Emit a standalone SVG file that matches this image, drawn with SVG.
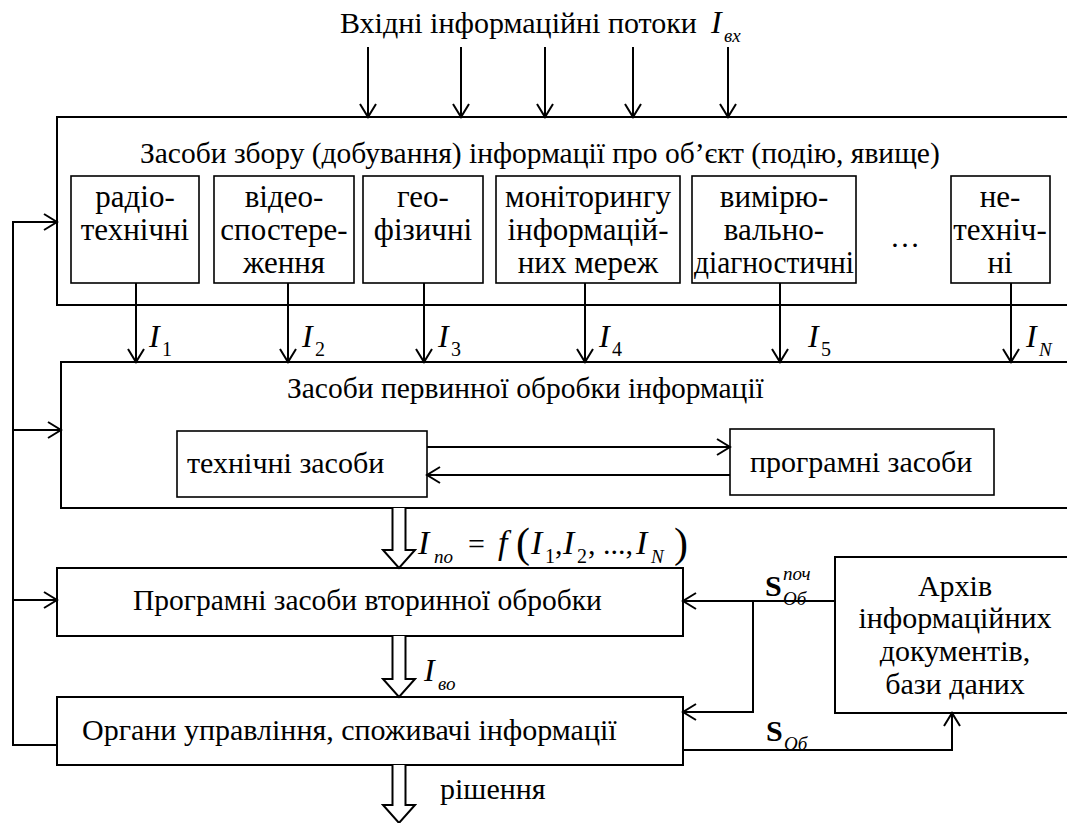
<svg xmlns="http://www.w3.org/2000/svg" width="1067" height="823" viewBox="0 0 1067 823" font-family="'Liberation Serif','Times New Roman',serif">
<style>
text{font-family:"Liberation Serif","Times New Roman",serif;fill:#000}
.t{font-size:30px}
.s{font-size:31px}
.h{font-size:29.5px}
.c{text-anchor:middle}
.big{font-size:32px;font-style:italic}
.bigf{font-size:34px;font-style:italic}
.sub{font-size:19px;font-style:italic}
.subn{font-size:20px}
.par{font-size:42px}
.box{fill:#fff;stroke:#000;stroke-width:2}
.sbox{fill:#fff;stroke:#000;stroke-width:1.6}
.ln{fill:none;stroke:#000;stroke-width:2}
.hol{fill:#fff;stroke:#000;stroke-width:2;stroke-linejoin:miter}
.bS{font-size:30px;font-weight:bold}
</style>
<defs>
<marker id="ar" markerUnits="userSpaceOnUse" markerWidth="16" markerHeight="18" viewBox="0 0 16 18" refX="14" refY="9" orient="auto">
<path d="M1,1 L14,9 L1,17" fill="none" stroke="#000" stroke-width="2"/>
</marker>
</defs>

<g id="title">
<text class="t" x="340" y="33">Вхідні інформаційні потоки</text>
<text class="big" x="711" y="33">I</text>
<text class="sub" x="724" y="42">вх</text>
</g>

<g id="collect">
<rect class="box" x="57" y="117" width="1020" height="188"/>
<text class="h" x="140" y="163">Засоби збору (добування) інформації про об’єкт (подію, явище)</text>
</g>
<g id="radio">
<rect class="sbox" x="71" y="176" width="128" height="107"/>
<text class="s c" x="135" y="207">радіо-</text>
<text class="s c" x="135" y="240">технічні</text>
</g>
<g id="video">
<rect class="sbox" x="214" y="176" width="140" height="107"/>
<text class="s c" x="284" y="207">відео-</text>
<text class="s c" x="284" y="240">спостере-</text>
<text class="s c" x="284" y="273">ження</text>
</g>
<g id="geo">
<rect class="sbox" x="363" y="176" width="120" height="107"/>
<text class="s c" x="423" y="207">гео-</text>
<text class="s c" x="423" y="240">фізичні</text>
</g>
<g id="monitor">
<rect class="sbox" x="496" y="176" width="184" height="107"/>
<text class="s c" x="588" y="207">моніторингу</text>
<text class="s c" x="588" y="240">інформацій-</text>
<text class="s c" x="588" y="273">них мереж</text>
</g>
<g id="measure">
<rect class="sbox" x="692" y="176" width="164" height="107"/>
<text class="s c" x="774" y="207">вимірю-</text>
<text class="s c" x="774" y="240">вально-</text>
<text class="s c" x="774" y="273" textLength="160" lengthAdjust="spacingAndGlyphs">діагностичні</text>
</g>
<g id="dots"><text class="t c" x="905" y="247">…</text></g>
<g id="nontech">
<rect class="sbox" x="951" y="176" width="99" height="107"/>
<text class="s c" x="1000" y="207">не-</text>
<text class="s c" x="1000" y="240">техніч-</text>
<text class="s c" x="1000" y="273">ні</text>
</g>

<g id="primary">
<rect class="box" x="61" y="362" width="1016" height="146"/>
<text class="h" x="287" y="398">Засоби первинної обробки інформації</text>
</g>
<g id="hw">
<rect class="sbox" x="177" y="431" width="250" height="66"/>
<text class="t" x="187" y="473">технічні засоби</text>
</g>
<g id="sw">
<rect class="sbox" x="730" y="429" width="264" height="66"/>
<text class="t" x="750" y="472">програмні засоби</text>
</g>

<g id="secondary">
<rect class="box" x="57" y="568" width="626" height="68"/>
<text class="h" x="133" y="610">Програмні засоби вторинної обробки</text>
</g>
<g id="archive">
<rect class="box" x="835" y="557" width="242" height="156"/>
<text class="t c" x="955" y="596">Архів</text>
<text class="t c" x="955" y="628">інформаційних</text>
<text class="t c" x="955" y="661">документів,</text>
<text class="t c" x="955" y="694">бази даних</text>
</g>
<g id="consumers">
<rect class="box" x="57" y="697" width="626" height="68"/>
<text class="t" x="82" y="740">Органи управління, споживачі інформації</text>
</g>

<g id="connectors">
<line class="ln" x1="368" y1="47" x2="368" y2="117" marker-end="url(#ar)"/>
<line class="ln" x1="461" y1="47" x2="461" y2="117" marker-end="url(#ar)"/>
<line class="ln" x1="545" y1="47" x2="545" y2="117" marker-end="url(#ar)"/>
<line class="ln" x1="633" y1="47" x2="633" y2="117" marker-end="url(#ar)"/>
<line class="ln" x1="728" y1="47" x2="728" y2="117" marker-end="url(#ar)"/>

<line class="ln" x1="136" y1="283" x2="136" y2="362" marker-end="url(#ar)"/>
<line class="ln" x1="288" y1="283" x2="288" y2="362" marker-end="url(#ar)"/>
<line class="ln" x1="424" y1="283" x2="424" y2="362" marker-end="url(#ar)"/>
<line class="ln" x1="585" y1="283" x2="585" y2="362" marker-end="url(#ar)"/>
<line class="ln" x1="780" y1="283" x2="780" y2="362" marker-end="url(#ar)"/>
<line class="ln" x1="1011" y1="283" x2="1011" y2="362" marker-end="url(#ar)"/>

<line class="ln" x1="427" y1="447" x2="730" y2="447" marker-end="url(#ar)"/>
<line class="ln" x1="730" y1="475" x2="427" y2="475" marker-end="url(#ar)"/>

<path class="hol" d="M392.5,508 V550 H383 L399,568 L415,550 H405.5 V508"/>
<path class="hol" d="M392.5,636 V679 H383 L399,697 L415,679 H405.5 V636"/>
<path class="hol" d="M392.5,765 V805 H383 L399,823 L415,805 H405.5 V765"/>

<line class="ln" x1="835" y1="601" x2="683" y2="601" marker-end="url(#ar)"/>
<polyline class="ln" points="753,601 753,712 683,712" marker-end="url(#ar)"/>
<polyline class="ln" points="683,750 952,750 952,713" marker-end="url(#ar)"/>

<polyline class="ln" points="57,745 13,745 13,222 57,222" marker-end="url(#ar)"/>
<line class="ln" x1="13" y1="430" x2="61" y2="430" marker-end="url(#ar)"/>
<line class="ln" x1="13" y1="600" x2="57" y2="600" marker-end="url(#ar)"/>
</g>

<g id="labels">
<text class="big" x="149" y="347">I</text><text class="subn" x="162" y="356">1</text>
<text class="big" x="302" y="347">I</text><text class="subn" x="315" y="356">2</text>
<text class="big" x="438" y="347">I</text><text class="subn" x="451" y="356">3</text>
<text class="big" x="599" y="347">I</text><text class="subn" x="612" y="356">4</text>
<text class="big" x="808" y="347">I</text><text class="subn" x="821" y="356">5</text>
<text class="big" x="1026" y="347">I</text><text class="sub" x="1039" y="356">N</text>

<text class="bigf" x="418" y="554">I</text>
<text class="sub" x="434" y="563">по</text>
<text class="t" x="468" y="554">=</text>
<text class="bigf" x="498" y="554">f</text>
<text class="par" x="516" y="557">(</text>
<text class="bigf" x="531" y="554">I</text>
<text class="subn" x="545" y="563">1</text>
<text class="t" x="555" y="554">,</text>
<text class="bigf" x="563" y="554">I</text>
<text class="subn" x="577" y="563">2</text>
<text class="t" x="588" y="554">, ..., </text>
<text class="bigf" x="636" y="554">I</text>
<text class="sub" x="651" y="563">N</text>
<text class="par" x="674" y="557">)</text>

<text class="big" x="424" y="681">I</text><text class="sub" x="438" y="690">во</text>

<text class="t" x="440" y="799">рішення</text>

<text class="bS" x="765" y="596">S</text>
<text class="sub" x="783" y="605">Об</text>
<text class="sub" x="783" y="580">поч</text>

<text class="bS" x="766" y="741">S</text>
<text class="sub" x="784" y="750">Об</text>
</g>
</svg>
